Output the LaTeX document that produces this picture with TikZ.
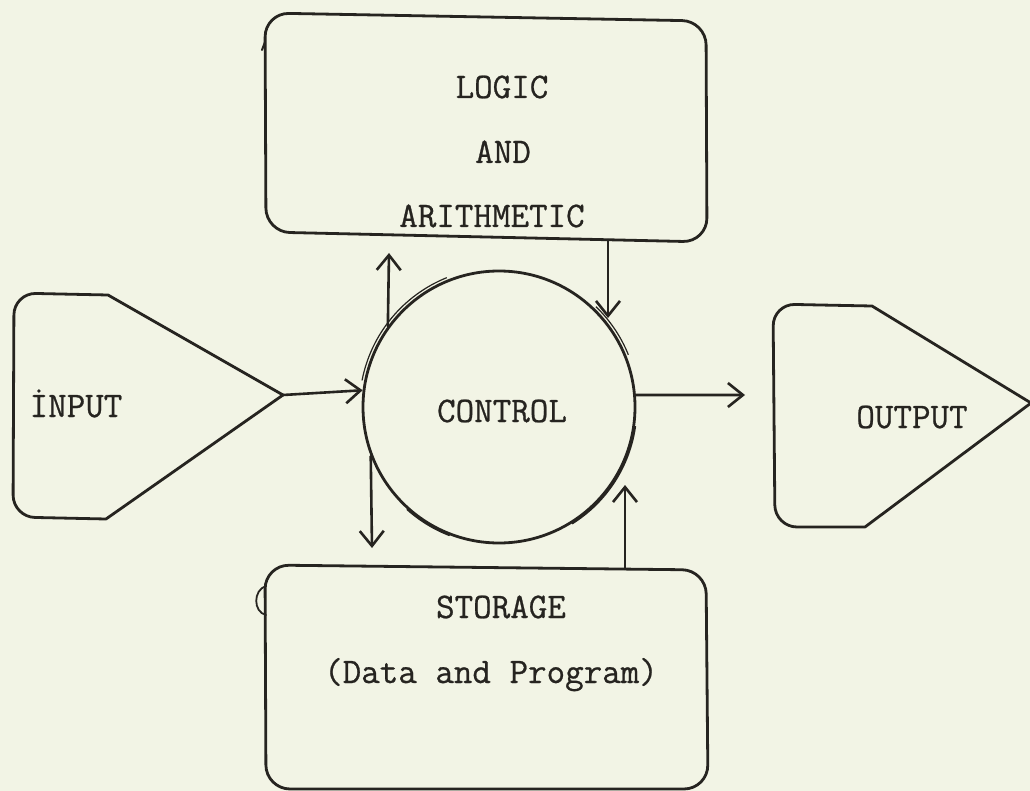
\documentclass[tikz,border=0pt]{standalone}
\usepackage{fontspec}
\newfontfamily\typewriter{Latin Modern Mono}[FakeBold=0.7]
\usetikzlibrary{arrows.meta}
\definecolor{paper}{RGB}{242,244,229}
\definecolor{ink}{RGB}{38,36,32}
\tikzset{
  outline/.style={draw=ink, line width=2.8pt, line join=round, line cap=round},
  flow/.style={draw=ink, line width=2.6pt, line cap=round,
    -{Straight Barb[length=15pt,width=24pt]}},
  trace/.style={draw=ink, line width=1.2pt},
  typed/.style={font=\typewriter\fontsize{36}{40}\selectfont, text=ink,
    inner sep=0pt, anchor=base}
}
\begin{document}
\begin{tikzpicture}[x=1pt,y=-1pt]
\useasboundingbox (0,0) rectangle (1030,791);
\fill[paper] (0,0) rectangle (1030,791);

% logic and arithmetic unit
\draw[outline, rounded corners=24pt] (265,13) -- (706,21) -- (707,242) -- (266,232) -- cycle;
\draw[outline, line width=2pt] (265,42) -- (262,50);
\node[typed] (logic) at (502,98) {LOGIC};
\node[typed] (and) at (503,163) {AND};
\node[typed] (arith) at (492,227) {ARITHMETIC};

% storage unit
\draw[outline, rounded corners=24pt] (265,565) -- (706,570) -- (708,789) -- (266,789) -- cycle;
\draw[outline, line width=1.8pt] (266,586) .. controls (253,590) and (253,612) .. (266,615);
\node[typed] (storage) at (501,618) {STORAGE};
\node[typed] (dataprog) at (491,683) {(Data and Program)};

% control unit
\node[draw=ink, line width=2.8pt, circle, minimum size=272pt, inner sep=0pt] (ctrl) at (499,407) {};
\node[typed] (ctrltext) at (502,422) {CONTROL};
\draw[trace] (ctrl.center) ++(-112:139.5) arc[start angle=-112, end angle=-169, radius=139.5];
\draw[trace] (ctrl.center) ++(-22:139.5) arc[start angle=-22, end angle=-46, radius=139.5];
\draw[draw=ink, line width=2pt] (ctrl.center) ++(8:137.5) arc[start angle=8, end angle=58, radius=137.5];
\draw[draw=ink, line width=1.8pt] (ctrl.center) ++(111:137.5) arc[start angle=111, end angle=132, radius=137.5];

% input unit
\coordinate (inApex) at (283,395);
\draw[outline] (60,294) [rounded corners=22pt] -- (14,293) -- (13,517) -- (60,518)
  [sharp corners] -- (106,519) -- (inApex) -- (108,295) -- cycle;
\node[typed] (input) at (76,417) {İNPUT};

% output unit
\draw[outline] (820,305) [rounded corners=22pt] -- (773,304) -- (775,527) -- (820,527)
  [sharp corners] -- (865,527) -- (1031,403) -- (872,306) -- cycle;
\node[typed] (output) at (912,428) {OUTPUT};

% connector ends
\coordinate (luTip) at (389,253);
\coordinate (ldTip) at (372,548);
\coordinate (laDrop) at (608,240);
\coordinate (rdTip) at (608,318);
\coordinate (stTap) at (625,569);
\coordinate (ruTip) at (625,485);
\coordinate (outTip) at (745,395);

% data flows
\draw[flow] (inApex) -- (ctrl.173);
\draw[flow] (ctrl.144) -- (luTip);
\draw[flow] (ctrl.201) -- (ldTip);
\draw[flow] (laDrop) -- (rdTip);
\draw[flow] (stTap) -- (ruTip);
\draw[flow] (ctrl.5) -- (outTip);
\end{tikzpicture}
\end{document}
